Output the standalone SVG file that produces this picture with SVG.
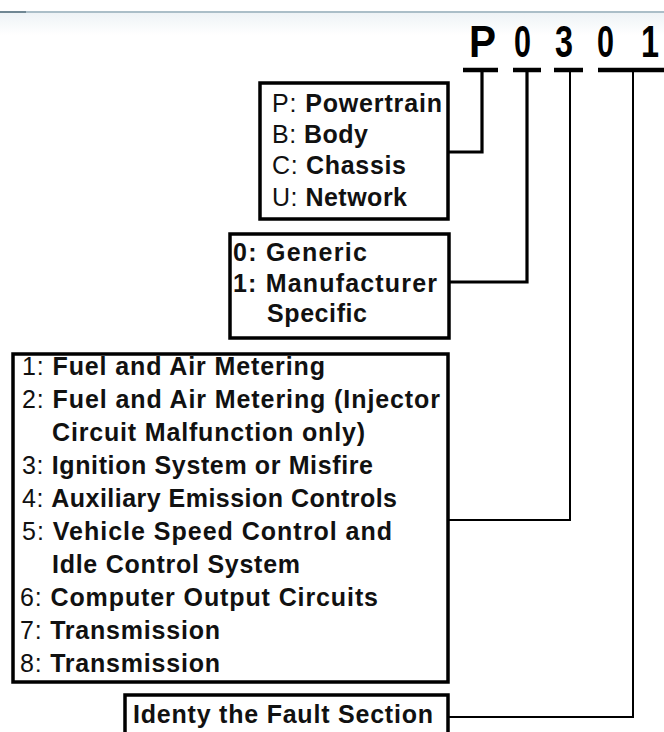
<svg xmlns="http://www.w3.org/2000/svg" width="664" height="732" viewBox="0 0 664 732">
<defs>
<linearGradient id="topfade" x1="0" y1="0" x2="0" y2="1">
<stop offset="0" stop-color="#eef3f6"/>
<stop offset="1" stop-color="#ffffff"/>
</linearGradient>
</defs>
<style>
.box{fill:#fff;stroke:#000;stroke-width:3.5}
.t{font-family:"Liberation Sans",Arial,sans-serif;font-size:25px;fill:#111;font-weight:bold}
.p{font-weight:normal}
.code{font-family:"Liberation Sans",Arial,sans-serif;font-size:44px;font-weight:bold;fill:#000}
.bar{stroke:#000;stroke-width:4.5;fill:none}
.c{stroke:#000;fill:none;stroke-width:2}
.ck{stroke:#000;fill:none;stroke-width:3.2}
</style>
<rect width="664" height="732" fill="#fff"/>
<rect x="0" y="13" width="664" height="22" fill="url(#topfade)"/>
<line x1="0" y1="12" x2="664" y2="12" stroke="#8fa8b6" stroke-width="1.5"/>
<line x1="0" y1="12" x2="26" y2="12" stroke="#5c7482" stroke-width="1.5"/>

<g id="code">
<text class="code" x="469" y="57" textLength="27" lengthAdjust="spacingAndGlyphs">P</text>
<text class="code" x="514" y="57" textLength="17" lengthAdjust="spacingAndGlyphs">0</text>
<text class="code" x="555" y="57" textLength="18" lengthAdjust="spacingAndGlyphs">3</text>
<text class="code" x="597" y="57" textLength="17" lengthAdjust="spacingAndGlyphs">0</text>
<text class="code" x="641" y="57" textLength="18" lengthAdjust="spacingAndGlyphs">1</text>
<line class="bar" x1="463" y1="70" x2="498" y2="70"/>
<line class="bar" x1="513" y1="70" x2="541" y2="70"/>
<line class="bar" x1="554" y1="70" x2="583" y2="70"/>
<line class="bar" x1="598" y1="70" x2="664" y2="70"/>
</g>

<g id="connectors">
<polyline class="ck" points="482,70 482,152 449,152"/>
<polyline class="ck" points="527,70 527,282 449,282"/>
<polyline class="c" points="570,70 570,520 449,520"/>
<polyline class="c" points="633,70 633,717 449,717"/>
</g>

<g id="system">
<rect class="box" x="260" y="83" width="188" height="136"/>
<text class="t" x="272" y="112" textLength="170" lengthAdjust="spacing"><tspan class="p">P: </tspan>Powertrain</text>
<text class="t" x="272" y="143" textLength="96" lengthAdjust="spacing"><tspan class="p">B: </tspan>Body</text>
<text class="t" x="272" y="174" textLength="134" lengthAdjust="spacing"><tspan class="p">C: </tspan>Chassis</text>
<text class="t" x="272" y="206" textLength="135" lengthAdjust="spacing"><tspan class="p">U: </tspan>Network</text>
</g>

<g id="type">
<rect class="box" x="230" y="234" width="219" height="104"/>
<text class="t" x="233" y="261" textLength="134" lengthAdjust="spacing">0: Generic</text>
<text class="t" x="233" y="292" textLength="204" lengthAdjust="spacing">1: Manufacturer</text>
<text class="t" x="267" y="322" textLength="100" lengthAdjust="spacing">Specific</text>
</g>

<g id="subsystem">
<rect class="box" x="13" y="354" width="435" height="328"/>
<text class="t" x="22" y="375" textLength="303" lengthAdjust="spacing"><tspan class="p">1: </tspan>Fuel and Air Metering</text>
<text class="t" x="22" y="408" textLength="418" lengthAdjust="spacing"><tspan class="p">2: </tspan>Fuel and Air Metering (Injector</text>
<text class="t" x="52" y="441" textLength="313" lengthAdjust="spacing">Circuit Malfunction only)</text>
<text class="t" x="22" y="474" textLength="351" lengthAdjust="spacing"><tspan class="p">3: </tspan>Ignition System or Misfire</text>
<text class="t" x="22" y="507" textLength="375" lengthAdjust="spacing"><tspan class="p">4: </tspan>Auxiliary Emission Controls</text>
<text class="t" x="22" y="540" textLength="370" lengthAdjust="spacing"><tspan class="p">5: </tspan>Vehicle Speed Control and</text>
<text class="t" x="52" y="573" textLength="248" lengthAdjust="spacing">Idle Control System</text>
<text class="t" x="20" y="606" textLength="358" lengthAdjust="spacing"><tspan class="p">6: </tspan>Computer Output Circuits</text>
<text class="t" x="20" y="639" textLength="200" lengthAdjust="spacing"><tspan class="p">7: </tspan>Transmission</text>
<text class="t" x="20" y="672" textLength="200" lengthAdjust="spacing"><tspan class="p">8: </tspan>Transmission</text>
</g>

<g id="fault">
<rect class="box" x="125" y="695" width="323" height="50"/>
<text class="t" x="133" y="723" textLength="300" lengthAdjust="spacing">Identy the Fault Section</text>
</g>
</svg>
